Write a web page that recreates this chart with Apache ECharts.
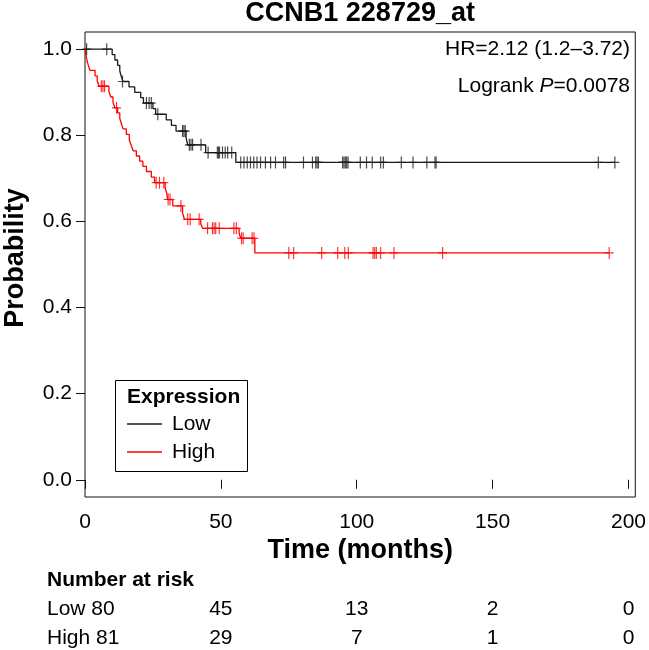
<!DOCTYPE html>
<html>
<head>
<meta charset="utf-8">
<script src="https://cdn.jsdelivr.net/npm/echarts@6/dist/echarts.min.js"></script>
<style>html,body{margin:0;padding:0;background:#fff}#c{width:649px;height:650px}</style>
</head>
<body>
<div id="c"></div>
<script>
const FONT = '"Liberation Sans", Arial, sans-serif';
const titleText = 'CCNB1 228729_at';
const timeTicks = [0, 50, 100, 150, 200];
const probTicks = [0, 0.2, 0.4, 0.6, 0.8, 1.0];
const groups = ['Low', 'High'];
const groupColors = ['#1a1a1a', '#ff0000'];

// Kaplan-Meier step points [time, survival]
const lowCurve = [[0,1],[10,0.9875],[11,0.975],[12,0.9625],[12.8,0.95],[13.3,0.9375],[14,0.925],[16.2,0.9125],[18.3,0.9],[20.5,0.8875],[21.5,0.875],[25,0.862],[26,0.849],[29.9,0.836],[31.8,0.823],[33.5,0.81],[37.2,0.794],[37.8,0.778],[44.4,0.76],[55.5,0.737],[195,0.737]];
const highCurve = [[0,1],[0.3,0.988],[0.7,0.975],[1.2,0.963],[1.8,0.951],[3.7,0.938],[4.5,0.926],[5.2,0.914],[8.8,0.901],[9.5,0.889],[10.3,0.877],[11,0.864],[12,0.852],[12.8,0.839],[13.4,0.827],[14,0.815],[15.2,0.802],[16.3,0.789],[17,0.777],[17.7,0.764],[18.9,0.752],[20.1,0.74],[21.3,0.728],[22.6,0.716],[24.4,0.703],[25.6,0.69],[29.5,0.678],[30.1,0.665],[30.4,0.651],[32.3,0.636],[35.9,0.62],[36.6,0.605],[42.6,0.594],[43.3,0.584],[56.7,0.573],[57.3,0.561],[62.5,0.527],[192.9,0.527]];

// censored observations [time, survival]
const lowCensored = [[0.6,1],[8,1],[13.8,0.925],[22.6,0.875],[23.6,0.875],[24.4,0.875],[26.8,0.849],[35.9,0.81],[36.4,0.81],[36.9,0.81],[38.4,0.778],[39,0.778],[39.6,0.778],[42.7,0.778],[45.3,0.76],[48.7,0.76],[49.1,0.76],[49.5,0.76],[50.6,0.76],[51.6,0.76],[52.5,0.76],[54,0.76],[57.3,0.737],[58.5,0.737],[59.7,0.737],[60.9,0.737],[62.1,0.737],[63.3,0.737],[64.6,0.737],[66.4,0.737],[68.3,0.737],[70.1,0.737],[73.1,0.737],[73.8,0.737],[80.4,0.737],[83.7,0.737],[84.9,0.737],[85.4,0.737],[85.9,0.737],[94.8,0.737],[95.3,0.737],[95.8,0.737],[96.3,0.737],[96.8,0.737],[101.3,0.737],[103.6,0.737],[105.7,0.737],[108.8,0.737],[109.8,0.737],[116.4,0.737],[120.7,0.737],[125.8,0.737],[128.8,0.737],[129.2,0.737],[188.9,0.737],[195,0.737]];
const highCensored = [[6,0.914],[6.6,0.914],[7.2,0.914],[11.6,0.864],[26.2,0.69],[27.4,0.69],[29,0.69],[30.6,0.651],[31.3,0.651],[35.3,0.636],[37.8,0.605],[38.7,0.605],[42,0.605],[45.1,0.584],[46.9,0.584],[47.5,0.584],[48.1,0.584],[49.4,0.584],[54.8,0.584],[55.7,0.584],[57.6,0.561],[58.2,0.561],[61.5,0.561],[62.2,0.561],[75,0.527],[76.8,0.527],[87.1,0.527],[93,0.527],[95.6,0.527],[96.9,0.527],[106,0.527],[106.6,0.527],[107.2,0.527],[108.8,0.527],[113.7,0.527],[131.6,0.527],[192.9,0.527]];

const hrText = 'HR=2.12 (1.2\u20133.72)';
const logrankP = '0.0078';
const riskTimes = [0, 50, 100, 150, 200];
const riskLow = [80, 45, 13, 2, 0];
const riskHigh = [81, 29, 7, 1, 0];

const plus = 'path://M4,0 h1.2 v12 h-1.2 z M0,5.4 h9.2 v1.2 h-9.2 z';

const chart = echarts.init(document.getElementById('c'), null, {renderer: 'canvas'});
const option = {
  animation: false,
  backgroundColor: '#fff',
  grid: {left: 85, right: 10, top: 32, bottom: 153, show: true, borderColor: '#111', borderWidth: 1, backgroundColor: 'transparent'},
  xAxis: {
    type: 'value', min: 0, max: 202.5,
    axisLine: {show: false},
    splitLine: {show: false},
    axisTick: {show: true, inside: false, length: 9, lineStyle: {color: '#111', width: 1}, customValues: timeTicks},
    axisLabel: {customValues: timeTicks, margin: 15, color: '#000', fontSize: 21, fontFamily: FONT}
  },
  yAxis: {
    type: 'value', min: -0.04, max: 1.04,
    axisLine: {show: false},
    splitLine: {show: false},
    axisTick: {show: true, inside: false, length: 9, lineStyle: {color: '#111', width: 1}, customValues: probTicks},
    axisLabel: {customValues: probTicks, margin: 13, color: '#000', fontSize: 21, fontFamily: FONT, formatter: v => v.toFixed(1)}
  },
  series: [
    {name: groups[0], type: 'line', step: 'end', data: lowCurve, symbol: 'none', lineStyle: {color: groupColors[0], width: 1.3}, z: 3},
    {name: groups[1], type: 'line', step: 'end', data: highCurve, symbol: 'none', lineStyle: {color: groupColors[1], width: 1.3}, z: 3},
    {name: groups[0] + ' censored', type: 'scatter', data: lowCensored, symbol: plus, symbolSize: [9, 12], itemStyle: {color: groupColors[0]}, z: 4},
    {name: groups[1] + ' censored', type: 'scatter', data: highCensored, symbol: plus, symbolSize: [9, 12], itemStyle: {color: groupColors[1]}, z: 4}
  ]
};
chart.setOption(option);

const px = t => chart.convertToPixel({xAxisIndex: 0}, t);
const cx = (px(0) + px(202.5)) / 2;
const g = [];
g.push({type: 'text', x: cx, y: 14, style: {text: titleText, font: 'bold 27px ' + FONT, fill: '#000', align: 'center', verticalAlign: 'middle'}});
g.push({type: 'text', x: cx, y: 551, style: {text: 'Time (months)', font: 'bold 27px ' + FONT, fill: '#000', align: 'center', verticalAlign: 'middle'}});
g.push({type: 'text', x: 16, y: 258, rotation: Math.PI / 2, style: {text: 'Probability', font: 'bold 27px ' + FONT, fill: '#000', align: 'center', verticalAlign: 'middle'}});
g.push({type: 'text', x: 630, y: 49, style: {text: hrText, font: '21px ' + FONT, fill: '#000', align: 'right', verticalAlign: 'middle'}});
g.push({type: 'text', x: 630, y: 86, style: {text: 'Logrank {i|P}=' + logrankP, fontSize: 21, fontFamily: FONT, fill: '#000', align: 'right', verticalAlign: 'middle', rich: {i: {fontStyle: 'italic', fontSize: 21, fontFamily: FONT, fill: '#000'}}}});
// legend
g.push({type: 'rect', shape: {x: 115.5, y: 380.5, width: 132, height: 91}, style: {fill: '#fff', stroke: '#000', lineWidth: 1}, z: 10});
g.push({type: 'text', x: 127, y: 397, z: 11, style: {text: 'Expression', font: 'bold 21px ' + FONT, fill: '#000', align: 'left', verticalAlign: 'middle'}});
[424, 452].forEach((yy, i) => {
  g.push({type: 'line', z: 11, shape: {x1: 127, y1: yy, x2: 162, y2: yy}, style: {stroke: groupColors[i], lineWidth: 1.3}});
  g.push({type: 'text', x: 172, y: yy, z: 11, style: {text: groups[i], font: '21px ' + FONT, fill: '#000', align: 'left', verticalAlign: 'middle'}});
});
// number at risk
g.push({type: 'text', x: 47, y: 580, style: {text: 'Number at risk', font: 'bold 21px ' + FONT, fill: '#000', align: 'left', verticalAlign: 'middle'}});
[[riskLow, 609], [riskHigh, 638]].forEach(([arr, yy], gi) => {
  g.push({type: 'text', x: 47, y: yy, style: {text: groups[gi] + ' ' + arr[0], font: '21px ' + FONT, fill: '#000', align: 'left', verticalAlign: 'middle'}});
  for (let k = 1; k < arr.length; k++) {
    g.push({type: 'text', x: px(riskTimes[k]), y: yy, style: {text: String(arr[k]), font: '21px ' + FONT, fill: '#000', align: 'center', verticalAlign: 'middle'}});
  }
});
chart.setOption({graphic: g});
</script>
</body>
</html>
